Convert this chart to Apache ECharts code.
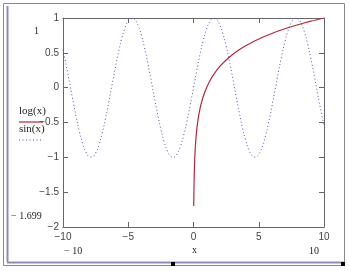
<!DOCTYPE html>
<html>
<head>
<meta charset="utf-8">
<script src="https://cdn.jsdelivr.net/npm/echarts@6/dist/echarts.min.js"></script>
<style>html,body{margin:0;padding:0;background:#fff;}#c{width:349px;height:271px;}</style>
</head>
<body>
<div id="c"></div>
<script>
// sin(x) samples
var sinX = [-10,-9.75,-9.5,-9.25,-9,-8.75,-8.5,-8.25,-8,-7.75,-7.5,-7.25,-7,-6.75,-6.5,-6.25,-6,-5.75,-5.5,-5.25,-5,-4.75,-4.5,-4.25,-4,-3.75,-3.5,-3.25,-3,-2.75,-2.5,-2.25,-2,-1.75,-1.5,-1.25,-1,-0.75,-0.5,-0.25,0,0.25,0.5,0.75,1,1.25,1.5,1.75,2,2.25,2.5,2.75,3,3.25,3.5,3.75,4,4.25,4.5,4.75,5,5.25,5.5,5.75,6,6.25,6.5,6.75,7,7.25,7.5,7.75,8,8.25,8.5,8.75,9,9.25,9.5,9.75,10];
var sinY = [0.544,0.320,0.075,-0.174,-0.412,-0.625,-0.799,-0.923,-0.989,-0.995,-0.938,-0.823,-0.657,-0.450,-0.215,0.033,0.279,0.508,0.706,0.859,0.959,0.999,0.978,0.895,0.757,0.572,0.351,0.108,-0.141,-0.382,-0.599,-0.778,-0.909,-0.984,-0.998,-0.949,-0.842,-0.682,-0.479,-0.247,0,0.247,0.479,0.682,0.842,0.949,0.998,0.984,0.909,0.778,0.599,0.382,0.141,-0.108,-0.351,-0.572,-0.757,-0.895,-0.978,-0.999,-0.959,-0.859,-0.706,-0.508,-0.279,-0.033,0.215,0.450,0.657,0.823,0.938,0.995,0.989,0.923,0.799,0.625,0.412,0.174,-0.075,-0.320,-0.544];
// log(x) samples
var logX = [0.02,0.03,0.04,0.05,0.07,0.1,0.15,0.2,0.25,0.3,0.4,0.5,0.6,0.7,0.8,1,1.25,1.5,2,2.5,3,3.5,4,5,6,7,8,9,10];
var logY = [-1.699,-1.523,-1.398,-1.301,-1.155,-1,-0.824,-0.699,-0.602,-0.523,-0.398,-0.301,-0.222,-0.155,-0.097,0,0.097,0.176,0.301,0.398,0.477,0.544,0.602,0.699,0.778,0.845,0.903,0.954,1];
var xTicks = [-10,-5,0,5,10];
var yTicks = [-2,-1.5,-1,-0.5,0,0.5,1];
var legendNames = ['log(x)','sin(x)'];
var markerTexts = ['1','\u2212 1.699','\u2212 10','10','x'];

function pairs(xs, ys){ return xs.map(function(x,i){ return [x, ys[i]]; }); }
function minus(v){ return String(v).replace('-', '\u2212'); }

var axisCol = '#666';
var tickFont = {fontFamily:'Liberation Sans, Arial, sans-serif', fontSize:10, color:'#444'};
var serif = 'Liberation Serif, Times New Roman, serif';
var sinCol = '#5050a8';

var chart = echarts.init(document.getElementById('c'), null, {renderer:'canvas'});
chart.setOption({
  animation:false,
  grid:{left:63, right:25, top:18, bottom:44},
  xAxis:[{
    type:'value', min:xTicks[0], max:xTicks[xTicks.length-1], interval:5, position:'bottom',
    axisLine:{show:true, onZero:false, lineStyle:{color:axisCol, width:1}},
    axisTick:{show:true, inside:true, length:5, lineStyle:{color:axisCol}},
    axisLabel:Object.assign({margin:5, formatter:minus}, tickFont),
    splitLine:{show:false}
  },{
    type:'value', min:xTicks[0], max:xTicks[xTicks.length-1], interval:5, position:'top',
    axisLine:{show:true, onZero:false, lineStyle:{color:axisCol, width:1}},
    axisTick:{show:true, inside:true, length:5, lineStyle:{color:axisCol}},
    axisLabel:{show:false}, splitLine:{show:false}
  }],
  yAxis:[{
    type:'value', min:yTicks[0], max:yTicks[yTicks.length-1], interval:0.5, position:'left',
    axisLine:{show:true, onZero:false, lineStyle:{color:axisCol, width:1}},
    axisTick:{show:true, inside:true, length:5, lineStyle:{color:axisCol}},
    axisLabel:Object.assign({margin:4, formatter:minus}, tickFont),
    splitLine:{show:false}
  },{
    type:'value', min:yTicks[0], max:yTicks[yTicks.length-1], interval:0.5, position:'right',
    axisLine:{show:true, onZero:false, lineStyle:{color:axisCol, width:1}},
    axisTick:{show:true, inside:true, length:5, lineStyle:{color:axisCol}},
    axisLabel:{show:false}, splitLine:{show:false}
  }],
  series:[{
    name:legendNames[0], type:'line', data:pairs(logX, logY), showSymbol:false, smooth:0.3,
    lineStyle:{color:'#b0283c', width:1.2}, z:3
  },{
    name:legendNames[1], type:'line', data:pairs(sinX, sinY), showSymbol:false, smooth:0.4,
    lineStyle:{color:sinCol, width:1, type:[1,2.5]}, z:2
  }],
  graphic:[
    {type:'rect', shape:{x:3.5,y:3.5,width:341,height:262}, style:{fill:null, stroke:'#888', lineWidth:1}},
    {type:'line', shape:{x1:7.5,y1:6,x2:7.5,y2:262}, style:{stroke:'#8c8cbc', lineWidth:2}},
    {type:'line', shape:{x1:7,y1:262.5,x2:344,y2:262.5}, style:{stroke:'#8c8cbc', lineWidth:2}},
    {type:'rect', shape:{x:171,y:262,width:4,height:4}, style:{fill:'#000'}},
    {type:'rect', shape:{x:341,y:262,width:4,height:4}, style:{fill:'#000'}},
    {type:'text', left:19, top:106, style:{text:legendNames[0], font:'11px '+serif, fill:'#222'}},
    {type:'line', shape:{x1:19,y1:122,x2:43,y2:122}, style:{stroke:'#b0283c', lineWidth:1.2}},
    {type:'text', left:19, top:124, style:{text:legendNames[1], font:'11px '+serif, fill:'#222'}},
    {type:'line', shape:{x1:19,y1:140,x2:43,y2:140}, style:{stroke:sinCol, lineWidth:1, lineDash:[1,2.5]}},
    {type:'text', left:34, top:26, style:{text:markerTexts[0], font:'10px '+serif, fill:'#222'}},
    {type:'text', left:11, top:211, style:{text:markerTexts[1], font:'10px '+serif, fill:'#222'}},
    {type:'text', left:64, top:246, style:{text:markerTexts[2], font:'10px '+serif, fill:'#222'}},
    {type:'text', left:309, top:246, style:{text:markerTexts[3], font:'10px '+serif, fill:'#222'}},
    {type:'text', left:192, top:245, style:{text:markerTexts[4], font:'10px '+serif, fill:'#222'}}
  ]
});
</script>
</body>
</html>
